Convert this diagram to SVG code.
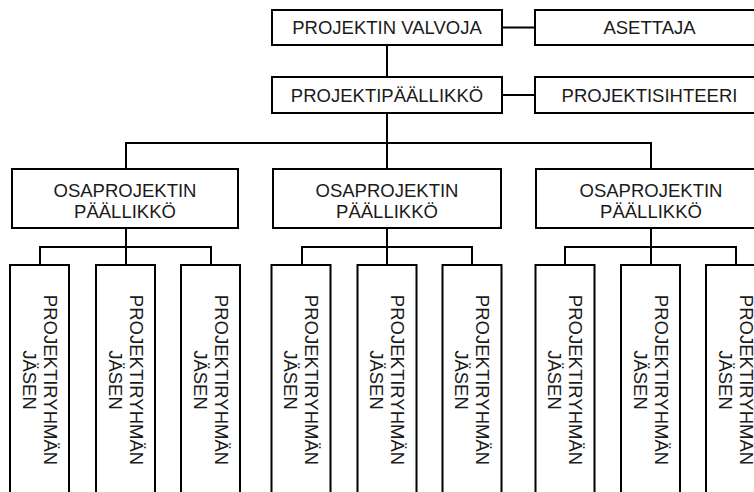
<svg xmlns="http://www.w3.org/2000/svg" width="754" height="492" viewBox="0 0 754 492">
<style>
.box{fill:#fff;stroke:#000;stroke-width:2}
.ln{fill:none;stroke:#000;stroke-width:2}
text{font-family:"Liberation Sans",Arial,sans-serif;font-size:18.5px;fill:#1a1a1a;text-anchor:middle}
</style>
<rect width="754" height="492" fill="#fff"/>
<g id="connectors" class="ln">
<path d="M502 27.5H535M502 95H535"/>
<path d="M387 45V77M387 113V143"/>
<path d="M126 169V143H651V169M387 143V169"/>
<path d="M126 228V247M40 265V247H211V265M126 247V265"/>
<path d="M387 228V247M302 265V247H472V265M387 247V265"/>
<path d="M651 228V247M565 265V247H736V265M651 247V265"/>
</g>
<g id="valvoja"><rect class="box" x="272" y="10" width="230" height="35"/><text x="387" y="34">PROJEKTIN VALVOJA</text></g>
<g id="asettaja"><rect class="box" x="535" y="10" width="229" height="35"/><text x="649.5" y="34">ASETTAJA</text></g>
<g id="projektipaallikko"><rect class="box" x="272" y="77" width="230" height="36"/><text x="387" y="102">PROJEKTIPÄÄLLIKKÖ</text></g>
<g id="projektisihteeri"><rect class="box" x="535" y="77" width="229" height="36"/><text x="649.5" y="102">PROJEKTISIHTEERI</text></g>
<g id="osa1"><rect class="box" x="12" y="169" width="226" height="59"/><text x="125" y="196.5">OSAPROJEKTIN</text><text x="125" y="217.5">PÄÄLLIKKÖ</text></g>
<g id="osa2"><rect class="box" x="273" y="169" width="228" height="59"/><text x="387" y="196.5">OSAPROJEKTIN</text><text x="387" y="217.5">PÄÄLLIKKÖ</text></g>
<g id="osa3"><rect class="box" x="536" y="169" width="230" height="59"/><text x="651" y="196.5">OSAPROJEKTIN</text><text x="651" y="217.5">PÄÄLLIKKÖ</text></g>
<defs>
<g id="member"><rect class="box" x="-29.5" y="-115" width="59" height="230"/><g transform="rotate(90)"><text x="0" y="-4">PROJEKTIRYHMÄN</text><text x="0" y="17">JÄSEN</text></g></g>
</defs>
<g id="m1"><use href="#member" x="39.5" y="380"/></g>
<g id="m2"><use href="#member" x="125.5" y="380"/></g>
<g id="m3"><use href="#member" x="210.5" y="380"/></g>
<g id="m4"><use href="#member" x="301" y="380"/></g>
<g id="m5"><use href="#member" x="387" y="380"/></g>
<g id="m6"><use href="#member" x="472" y="380"/></g>
<g id="m7"><use href="#member" x="565" y="380"/></g>
<g id="m8"><use href="#member" x="650.5" y="380"/></g>
<g id="m9"><use href="#member" x="735.5" y="380"/></g>
</svg>
